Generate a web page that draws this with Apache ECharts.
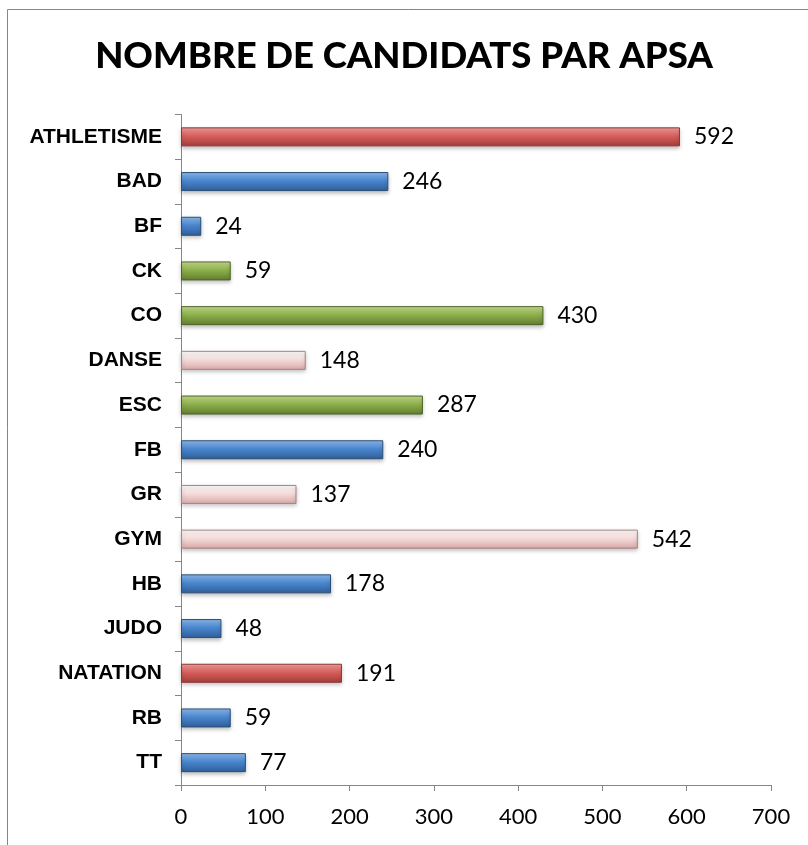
<!DOCTYPE html>
<html><head><meta charset="utf-8">
<script src="https://cdn.jsdelivr.net/npm/echarts@6/dist/echarts.min.js"></script>
<style>html,body{margin:0;padding:0;background:#fff}#c{width:808px;height:845px}</style>
</head><body><div id="c"></div>
<script>
const categories = ['ATHLETISME','BAD','BF','CK','CO','DANSE','ESC','FB','GR','GYM','HB','JUDO','NATATION','RB','TT'];
const values = [592,246,24,59,430,148,287,240,137,542,178,48,191,59,77];
const colorGroups = ['red','blue','blue','green','green','pink','green','blue','pink','pink','blue','blue','red','blue','blue'];
const xTicks = [0,100,200,300,400,500,600,700];

const palettes = {
  red:   {top:'#F4A09E', mid:'#D65F5C', bot:'#A23D3A', border:'#8C3836'},
  blue:  {top:'#8FBDF0', mid:'#4A86CF', bot:'#2F5F99', border:'#2C4D75'},
  green: {top:'#C6DE8E', mid:'#8DB04C', bot:'#617E30', border:'#4F6228'},
  pink:  {top:'#FFFFFF', mid:'#F4DCDB', bot:'#D9A9A8', border:'#A88382'}
};
function grad(p){
  return new echarts.graphic.LinearGradient(0,0,0,1,[
    {offset:0,color:p.top},{offset:0.45,color:p.mid},{offset:1,color:p.bot}]);
}
const chart = echarts.init(document.getElementById('c'));
chart.setOption({
  animation:false,
  title:{text:'NOMBRE DE CANDIDATS PAR APSA',left:'center',top:33,
    textStyle:{fontFamily:'Lato',fontWeight:900,fontSize:36.5,color:'#000'}},
  graphic:[{type:'rect',shape:{x:7.5,y:9.5,width:820,height:860},
    style:{fill:'none',stroke:'#868686',lineWidth:1},silent:true}],
  grid:{left:181,right:37,top:114.5,bottom:60,containLabel:false},
  xAxis:{type:'value',min:0,max:700,interval:100,
    axisLine:{show:true,lineStyle:{color:'#868686'}},
    axisTick:{show:true,length:6,lineStyle:{color:'#868686'}},
    splitLine:{show:false},
    axisLabel:{fontFamily:'Lato',fontSize:22,color:'#000',margin:21,
      formatter:v=>xTicks.includes(v)?String(v):''}},
  yAxis:{type:'category',data:categories,inverse:true,
    axisLine:{show:true,lineStyle:{color:'#868686'}},
    axisTick:{show:true,length:6,alignWithLabel:false,lineStyle:{color:'#868686'}},
    axisLabel:{fontFamily:'Liberation Sans',fontWeight:'bold',fontSize:21,color:'#000',margin:19}},
  series:[{type:'bar',barWidth:19,
    data:values.map((v,i)=>{const p=palettes[colorGroups[i]];return {value:v,
      itemStyle:{color:grad(p),borderColor:p.border,borderWidth:1,
        shadowColor:'rgba(0,0,0,0.25)',shadowBlur:4,shadowOffsetY:2}};}),
    label:{show:true,position:'right',distance:14,fontFamily:'Lato',fontSize:23,color:'#000'}}]
});
</script></body></html>
